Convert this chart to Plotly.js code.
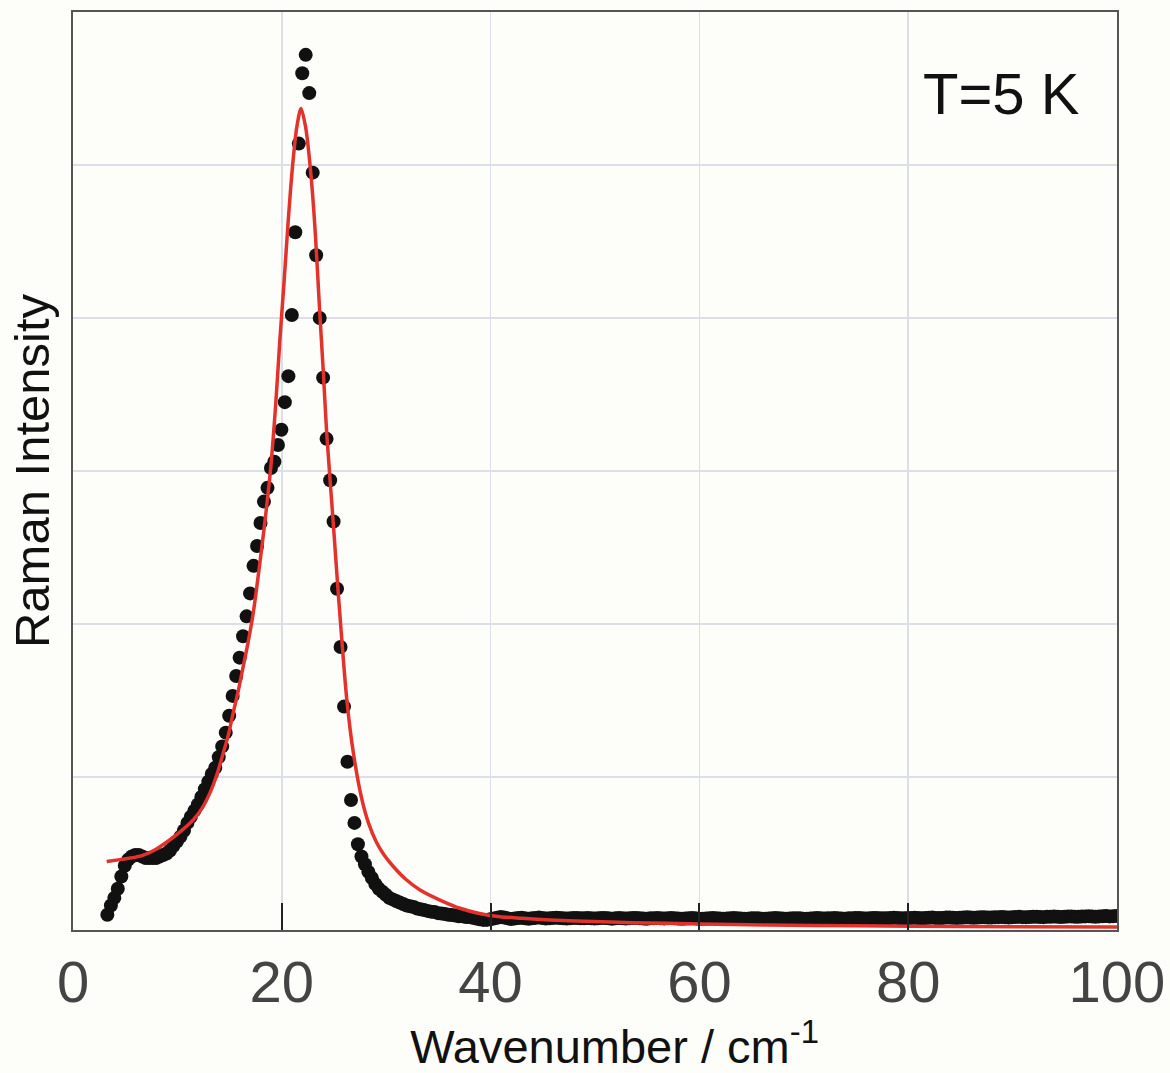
<!DOCTYPE html>
<html>
<head>
<meta charset="utf-8">
<script src="https://cdn.plot.ly/plotly-3.0.1.min.js"></script>
<style>
  html, body { margin: 0; padding: 0; background: #fdfdfa; }
  #chart { width: 1170px; height: 1073px; }
</style>
</head>
<body>
<div id="chart"></div>
<script>
// Measured Raman spectrum (wavenumber in cm^-1, intensity in arbitrary units)
const dataWavenumber = [
  3.29,3.63,3.96, 4.29,4.63,4.96, 5.29,5.63,5.96, 6.29,6.63,6.96, 7.29,7.63,7.96,
  8.29,8.63,8.96, 9.29,9.63,9.96, 10.29,10.63,10.96, 11.29,11.63,11.96, 12.29,12.63,12.96,
  13.29,13.63,13.96, 14.29,14.63,14.96, 15.29,15.63,15.96, 16.29,16.63,16.96, 17.29,17.63,17.96,
  18.29,18.63,18.96, 19.29,19.63,19.96, 20.29,20.63,20.96, 21.29,21.63,21.96, 22.29,22.63,22.96,
  23.29,23.63,23.96, 24.29,24.63,24.96, 25.29,25.63,25.96, 26.29,26.63,26.96, 27.29,27.63,27.96,
  28.29,28.63,28.96, 29.29,29.63,29.96, 30.29,30.63,30.96, 31.29,31.63,31.96, 32.29,32.63,32.96,
  33.29,33.63,33.96, 34.29,34.63,34.96, 35.29,35.63,35.96, 36.29,36.63,36.96, 37.29,37.63,37.96,
  38.29,38.63,38.96, 39.29,39.63,39.96, 40.29,40.63,40.96, 41.29,41.63,41.96, 42.29,42.63,42.96,
  43.29,43.63,43.96, 44.29,44.63,44.96, 45.29,45.63,45.96, 46.29,46.63,46.96, 47.29,47.63,47.96,
  48.29,48.63,48.96, 49.29,49.63,49.96, 50.29,50.63,50.96, 51.29,51.63,51.96, 52.29,52.63,52.96,
  53.29,53.63,53.96, 54.29,54.63,54.96, 55.29,55.63,55.96, 56.29,56.63,56.96, 57.29,57.63,57.96,
  58.29,58.63,58.96, 59.29,59.63,59.96, 60.29,60.63,60.96, 61.29,61.63,61.96, 62.29,62.63,62.96,
  63.29,63.63,63.96, 64.29,64.63,64.96, 65.29,65.63,65.96, 66.29,66.63,66.96, 67.29,67.63,67.96,
  68.29,68.63,68.96, 69.29,69.63,69.96, 70.29,70.63,70.96, 71.29,71.63,71.96, 72.29,72.63,72.96,
  73.29,73.63,73.96, 74.29,74.63,74.96, 75.29,75.63,75.96, 76.29,76.63,76.96, 77.29,77.63,77.96,
  78.29,78.63,78.96, 79.29,79.63,79.96, 80.29,80.63,80.96, 81.29,81.63,81.96, 82.29,82.63,82.96,
  83.29,83.63,83.96, 84.29,84.63,84.96, 85.29,85.63,85.96, 86.29,86.63,86.96, 87.29,87.63,87.96,
  88.29,88.63,88.96, 89.29,89.63,89.96, 90.29,90.63,90.96, 91.29,91.63,91.96, 92.29,92.63,92.96,
  93.29,93.63,93.96, 94.29,94.63,94.96, 95.29,95.63,95.96, 96.29,96.63,96.96, 97.29,97.63,97.96,
  98.29,98.63,98.96, 99.29,99.63,99.96
];
const dataIntensity = [
  0.10,0.16,0.21, 0.27,0.35,0.42, 0.46,0.48,0.49, 0.49,0.48,0.47, 0.47,0.47,0.47,
  0.48,0.49,0.50, 0.52,0.55,0.58, 0.61,0.65,0.70, 0.74,0.78,0.82, 0.87,0.92,0.97,
  1.02,1.06,1.13, 1.20,1.29,1.40, 1.53,1.66,1.78, 1.92,2.05,2.20, 2.38,2.51,2.66,
  2.80,2.89,3.02, 3.06,3.17,3.27, 3.45,3.62,4.02, 4.56,5.14,5.60, 5.72,5.47,4.95,
  4.41,4.00,3.61, 3.21,2.94,2.67, 2.23,1.85,1.46, 1.10,0.85,0.70, 0.56,0.48,0.43,
  0.38,0.34,0.30, 0.27,0.25,0.23, 0.21,0.20,0.19, 0.18,0.17,0.16, 0.155,0.15,0.14,
  0.135,0.13,0.125, 0.12,0.118,0.11, 0.108,0.105,0.10, 0.098,0.095,0.09, 0.09,0.085,0.085,
  0.08,0.075,0.07, 0.066,0.066,0.07, 0.075,0.08,0.085, 0.082,0.076,0.072, 0.075,
  0.078,0.080,0.077,0.074,0.076,0.079,0.081,0.078,0.075,0.077,0.079,0.080,0.078,0.076,0.075,0.077,0.079,0.078,0.076,0.077,
  0.078,0.076,0.075,0.077,0.079,0.078,0.076,0.074,0.076,0.078,0.077,0.075,0.076,0.078,0.079,0.077,0.075,0.074,0.076,0.077,
  0.078,0.076,0.075,0.076,0.078,0.077,0.075,0.074,0.075,0.077,0.078,0.076,0.074,0.073,0.075,0.077,0.078,0.076,0.075,0.074,
  0.075,0.077,0.078,0.076,0.075,0.073,0.074,0.076,0.077,0.076,0.074,0.073,0.075,0.076,0.078,0.077,0.075,0.074,0.075,0.076,
  0.077,0.076,0.074,0.073,0.075,0.077,0.078,0.076,0.075,0.076,0.077,0.078,0.076,0.075,0.074,0.076,0.077,0.079,0.078,0.076,
  0.075,0.076,0.078,0.079,0.077,0.076,0.077,0.078,0.080,0.079,0.077,0.076,0.078,0.079,0.080,0.078,0.077,0.078,0.080,0.081,
  0.079,0.078,0.079,0.081,0.082,0.080,0.079,0.080,0.082,0.083,0.081,0.080,0.081,0.083,0.084,0.082,0.081,0.083,0.084,0.085,
  0.083,0.082,0.084,0.085,0.086,0.084,0.083,0.085,0.086,0.087,0.085,0.084,0.086,0.087,0.088,0.086,0.085,0.087,0.088,0.089,
  0.087,0.086,0.088,0.089,0.090,0.088,0.087,0.089,0.090,0.091,0.089,0.090,0.092
];

// Fitted curve (red)
const fitWavenumber = [3.23, 4.5, 5.5, 6.74, 8.0, 9.29, 10.4, 11.52, 12.4, 13.12, 13.8, 14.4, 14.9, 15.35,
  15.85, 16.31, 16.8, 17.27, 17.9, 18.4, 18.94, 19.4, 19.8, 20.2, 20.6, 21.0, 21.42, 21.84, 22.3, 22.8,
  23.2, 23.6, 24.0, 24.3, 24.93, 25.41, 26.22, 26.85, 27.65, 28.3, 29.09, 29.8, 30.68, 31.9, 33.24,
  35.47, 37.07, 38.8, 40.9, 43.0, 45.7, 49.0, 53.6, 60.0, 66.4, 75.0, 85.0, 100.0];
const fitIntensity = [0.448, 0.46, 0.47, 0.49, 0.53, 0.59, 0.65, 0.72, 0.80, 0.896, 1.02, 1.158, 1.28, 1.42,
  1.57, 1.725, 1.89, 2.075, 2.40, 2.68, 3.02, 3.42, 3.84, 4.22, 4.62, 4.97, 5.24, 5.37, 5.24, 4.93,
  4.565, 4.08, 3.62, 3.25, 2.66, 2.20, 1.51, 1.16, 0.86, 0.70, 0.57, 0.49, 0.415, 0.33, 0.262,
  0.186, 0.142, 0.11, 0.087, 0.077, 0.066, 0.057, 0.048, 0.040, 0.033, 0.027, 0.023, 0.020];

const xTickVals = [0, 20, 40, 60, 80, 100];
const xTickText = ['0', '20', '40', '60', '80', '100'];

const FONT = 'Liberation Sans, Arial, Helvetica, sans-serif';

const traces = [
  {
    x: dataWavenumber, y: dataIntensity, type: 'scatter', mode: 'markers',
    marker: { color: '#111111', size: 14 },
    hoverinfo: 'skip', showlegend: false
  },
  {
    x: fitWavenumber, y: fitIntensity, type: 'scatter', mode: 'lines',
    line: { color: '#e2322b', width: 3.5, shape: 'spline', smoothing: 0.8 },
    hoverinfo: 'skip', showlegend: false
  }
];

const layout = {
  width: 1170, height: 1073,
  margin: { l: 73, r: 53, t: 12, b: 143 },
  paper_bgcolor: '#fdfdfa', plot_bgcolor: '#fdfdfa',
  font: { family: FONT, color: '#111' },
  xaxis: {
    range: [0, 100], tickmode: 'array', tickvals: xTickVals, ticktext: xTickText,
    ticks: 'inside', ticklen: 27, tickwidth: 2, tickcolor: '#222',
    showgrid: true, gridcolor: '#dcdfe7', gridwidth: 1.5, zeroline: false,
    showline: true, linecolor: '#555', linewidth: 2, mirror: true,
    tickfont: { family: FONT, size: 58, color: '#444' },
    ticklabelstandoff: 0,
    title: { text: '&nbsp;&nbsp;&nbsp;Wavenumber / cm<sup>-1</sup>', font: { family: FONT, size: 47, color: '#111' }, standoff: 24 }
  },
  yaxis: {
    range: [0, 6], dtick: 1, showticklabels: false, ticks: '',
    showgrid: true, gridcolor: '#dcdfe7', gridwidth: 1.5, zeroline: false,
    showline: true, linecolor: '#555', linewidth: 2, mirror: true,
    title: { text: 'Raman Intensity', font: { family: FONT, size: 49, color: '#111' }, standoff: 6 }
  },
  annotations: [
    { text: 'T=5 K', xref: 'paper', yref: 'paper', x: 0.9665, y: 0.9107,
      xanchor: 'right', yanchor: 'middle', showarrow: false,
      font: { family: FONT, size: 58, color: '#111' } }
  ]
};

Plotly.newPlot('chart', traces, layout, { displayModeBar: false, staticPlot: true });
</script>
</body>
</html>
